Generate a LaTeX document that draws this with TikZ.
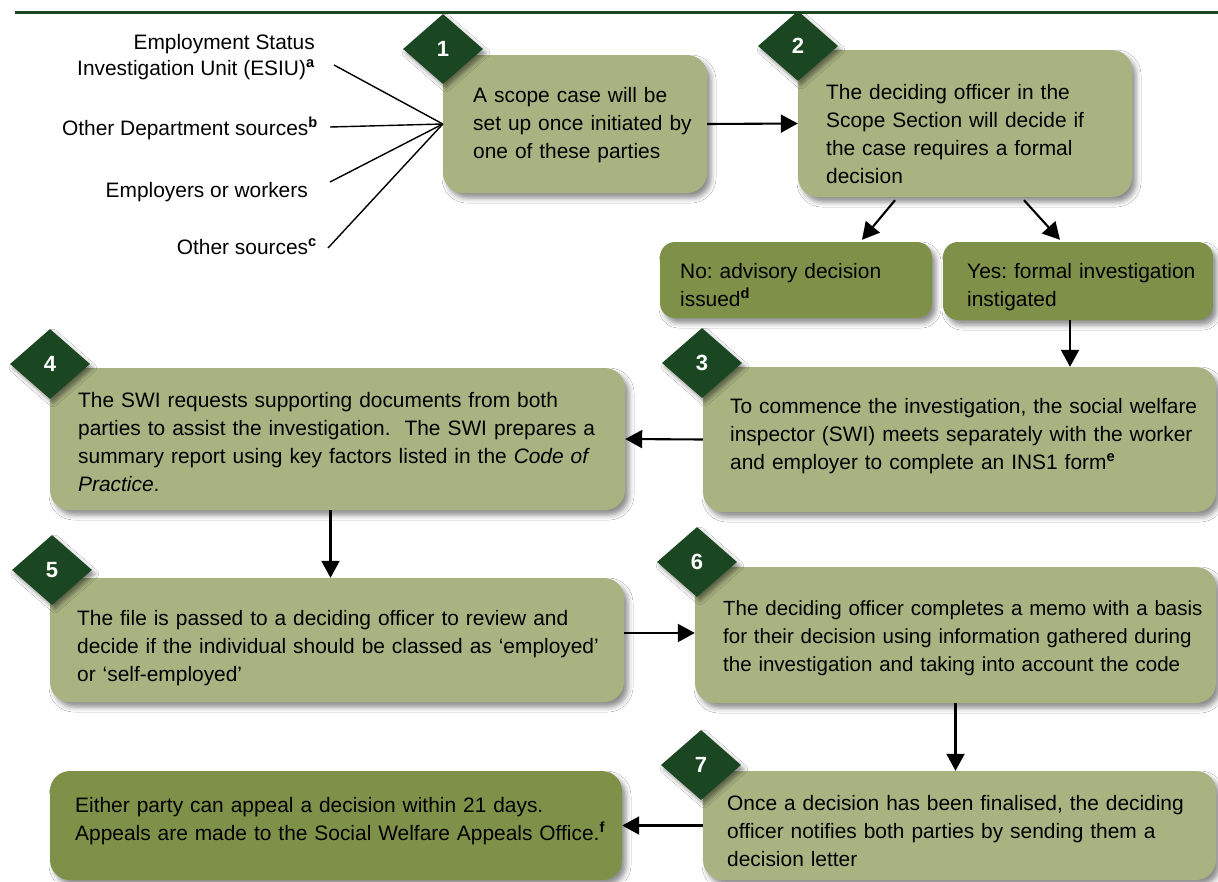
\documentclass[tikz,border=0pt]{standalone}
\usepackage{fontspec}
\setmainfont{Liberation Sans}
\usetikzlibrary{shapes.geometric,arrows.meta,calc,shadows.blur}
\definecolor{boxlight}{HTML}{A9B382}
\definecolor{boxdark}{HTML}{7F9149}
\definecolor{dgreen}{HTML}{1A4721}
\frenchspacing
\tikzset{
  box/.style={fill=boxlight, draw=none, rounded corners=20pt, inner sep=0pt,
    blur shadow={shadow xshift=4pt, shadow yshift=-5pt, shadow blur radius=5pt, shadow opacity=45}},
  darkbox/.style={box, fill=boxdark, rounded corners=15pt},
  txt/.style={anchor=base west, inner sep=0pt, text width=600pt, align=left,
    font=\fontsize{20.9}{28}\selectfont, text=black},
  lab/.style={anchor=base east, inner sep=0pt, align=right,
    font=\fontsize{20.9}{26}\selectfont, text=black},
  dia/.style={diamond, fill=dgreen, minimum width=80pt, minimum height=70pt, inner sep=0pt,
    text=white, font=\bfseries\fontsize{22}{22}\selectfont,
    blur shadow={shadow xshift=3pt, shadow yshift=-4pt, shadow blur radius=4pt, shadow opacity=45}},
  arr/.style={line width=2.1pt, -{Triangle[length=17pt,width=18pt]}},
  fan/.style={line width=1.4pt}
}
\begin{document}
\begin{tikzpicture}[x=1pt,y=-1pt]
\useasboundingbox (0,0) rectangle (1218,881);
\fill[white] (0,0) rectangle (1218,881);
\draw[dgreen, line width=3.5pt] (15,12.5) -- (1218,12.5);

% left labels
\node[lab] (l1) at (315,75) {Employment Status\\Investigation Unit (ESIU)\textsuperscript{\textbf{a}}};
\node[lab] (l2) at (318,135) {Other Department sources\textsuperscript{\textbf{b}}};
\node[lab] (l3) at (308,197) {Employers or workers};
\node[lab] (l4) at (317,254) {Other sources\textsuperscript{\textbf{c}}};

% boxes
\node[box, minimum width=264pt, minimum height=138pt] (b1) at (575,124) {};
\node[box, minimum width=334pt, minimum height=147pt] (b2) at (965,123.5) {};
\node[darkbox, minimum width=272pt, minimum height=76pt] (bno) at (796,280) {};
\node[darkbox, minimum width=270pt, minimum height=78pt] (byes) at (1078,281) {};
\node[box, minimum width=575pt, minimum height=142pt] (b4) at (337.5,439) {};
\node[box, minimum width=513pt, minimum height=145pt] (b3) at (959.5,439.5) {};
\node[box, minimum width=574pt, minimum height=124pt] (b5) at (337,640) {};
\node[box, minimum width=521pt, minimum height=136pt] (b6) at (955.5,635) {};
\node[box, minimum width=513pt, minimum height=109pt] (b7) at (959.5,825.5) {};
\node[darkbox, rounded corners=20pt, minimum width=572pt, minimum height=109pt] (ba) at (336,825.5) {};

% texts
\node[txt] (t1) at (473,102) {A scope case will be\\set up once initiated by\\one of these parties};
\node[txt] (t2) at (826,99) {The deciding officer in the\\Scope Section will decide if\\the case requires a formal\\decision};
\node[txt] (tno) at (680,278) {No: advisory decision\\issued\textsuperscript{\textbf{d}}};
\node[txt] (tyes) at (967,278) {Yes: formal investigation\\instigated};
\node[txt] (t4) at (78,407) {The SWI requests supporting documents from both\\parties to assist the investigation.\ \ The SWI prepares a\\summary report using key factors listed in the \textit{Code of}\\\textit{Practice}.};
\node[txt] (t3) at (730,413) {To commence the investigation, the social welfare\\inspector (SWI) meets separately with the worker\\and employer to complete an INS1 form\textsuperscript{\textbf{e}}};
\node[txt] (t5) at (77,625) {The file is passed to a deciding officer to review and\\decide if the individual should be classed as ‘employed’\\or ‘self-employed’};
\node[txt, font=\fontsize{20.5}{28}\selectfont] (t6) at (723,615) {The deciding officer completes a memo with a basis\\for their decision using information gathered during\\the investigation and taking into account the code};
\node[txt] (t7) at (727,810) {Once a decision has been finalised, the deciding\\officer notifies both parties by sending them a\\decision letter};
\node[txt] (ta) at (75,812) {Either party can appeal a decision within 21 days.\\Appeals are made to the Social Welfare Appeals Office.\textsuperscript{\textbf{f}}};

% diamonds
\node[dia] (d1) at (443,49) {1};
\node[dia] (d2) at (798,46) {2};
\node[dia] (d3) at (702,363) {3};
\node[dia] (d4) at (50,364) {4};
\node[dia] (d5) at (52,570) {5};
\node[dia] (d6) at (697,562) {6};
\node[dia] (d7) at (701,765) {7};

% fan-in lines
\draw[fan] ($(l1.base east)+(19,-10)$) -- (b1.west);
\draw[fan] ($(l2.base east)+(12,-8)$) -- (b1.west);
\draw[fan] ($(l3.base east)+(22,-15)$) -- (b1.west);
\draw[fan] ($(l4.base east)+(11,-6)$) -- (b1.west);

% arrows
\draw[arr] (b1.east) -- (b2.west);
\draw[arr] ($(b2.south)+(-70,3)$) -- ($(bno.north)+(66,-2)$);
\draw[arr] ($(b2.south)+(59,3)$) -- ($(byes.north)+(-18,-2)$);
\draw[arr] ([xshift=-8pt]byes.south) -- ([xshift=-8pt]byes.south |- b3.north);
\draw[arr] (b3.west) -- (b4.east);
\draw[arr] ([xshift=-7pt]b4.south) -- ([xshift=-7pt]b4.south |- b5.north);
\draw[arr] ([yshift=7pt]b5.east) -- ([yshift=7pt]b5.east -| b6.west);
\draw[arr] (b6.south) -- (b6.south |- b7.north);
\draw[arr] (b7.west) -- (ba.east);
\end{tikzpicture}
\end{document}
